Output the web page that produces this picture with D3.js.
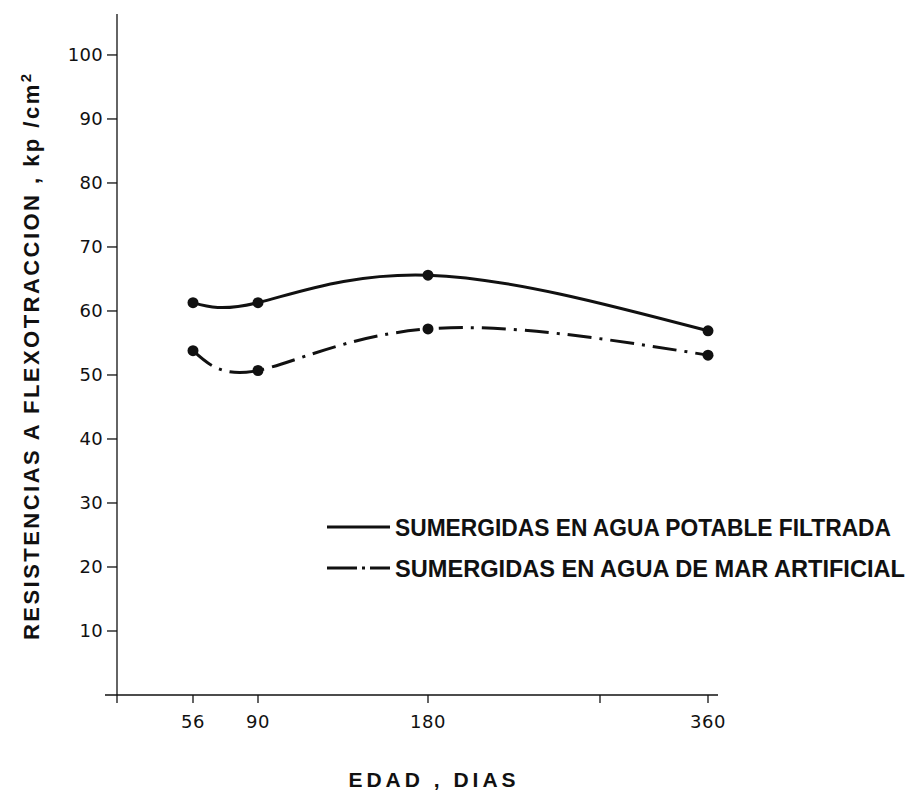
<!DOCTYPE html>
<html lang="es">
<head>
<meta charset="utf-8">
<style>
body { margin: 0; background: #fff; }
svg { display: block; }
.tick-lbl { font-family: "DejaVu Sans", sans-serif; fill: #111; }
.title { font-family: "Liberation Sans", Arial, sans-serif; font-weight: bold; fill: #111; }
.legend text { font-family: "Liberation Sans Narrow", "Liberation Sans", sans-serif; font-weight: bold; fill: #111; }
</style>
</head>
<body>
<script src="https://cdn.jsdelivr.net/npm/d3@7"></script>
<script>
// edad (dias) and resistencias a flexotraccion (kp/cm2)
var days = [56, 90, 180, 360];
var potable = [61.3, 61.3, 65.6, 56.9];
var marArtificial = [53.8, 50.7, 57.2, 53.1];

var yTicks = [10, 20, 30, 40, 50, 60, 70, 80, 90, 100];
var xTicks = [56, 90, 180, 300, 360];
var xTickLabels = ["56", "90", "180", "", "360"];

var legendLabels = ["SUMERGIDAS EN AGUA POTABLE FILTRADA", "SUMERGIDAS EN AGUA DE MAR ARTIFICIAL"];

var width = 906, height = 790;
var ink = "#111";

var svg = d3.select("body").append("svg")
    .attr("width", width)
    .attr("height", height);

// the original x axis is hand drawn and not evenly spaced, so the scale is piecewise
var x = d3.scaleLinear()
    .domain([0, 56, 90, 180, 300, 360])
    .range([117, 193, 258, 428, 600, 708]);
var y = d3.scaleLinear().domain([0, 106.4]).range([695, 14]);

// axes
var axisX = x(0), axisY = y(0);

svg.append("line")
    .attr("x1", axisX).attr("x2", axisX)
    .attr("y1", y(106.4)).attr("y2", axisY + 8)
    .attr("stroke", ink).attr("stroke-width", 1.3);

svg.append("line")
    .attr("x1", axisX - 12).attr("x2", 718)
    .attr("y1", axisY).attr("y2", axisY)
    .attr("stroke", ink).attr("stroke-width", 1.3);

var yt = svg.append("g").selectAll("g")
    .data(yTicks).enter().append("g")
    .attr("transform", function(d) { return "translate(0," + y(d) + ")"; });

yt.append("line")
    .attr("x1", axisX - 10).attr("x2", axisX)
    .attr("stroke", ink).attr("stroke-width", 1.3);

yt.append("text")
    .attr("class", "tick-lbl")
    .attr("x", axisX - 14)
    .attr("dy", "0.36em")
    .attr("text-anchor", "end")
    .style("font-size", "18px")
    .style("letter-spacing", "0.3px")
    .text(function(d) { return d; });

var xt = svg.append("g").selectAll("g")
    .data(xTicks).enter().append("g")
    .attr("transform", function(d) { return "translate(" + x(d) + ",0)"; });

xt.append("line")
    .attr("y1", axisY).attr("y2", axisY + 8)
    .attr("stroke", ink).attr("stroke-width", 1.3);

xt.append("text")
    .attr("class", "tick-lbl")
    .attr("y", 728)
    .attr("text-anchor", "middle")
    .style("font-size", "18px")
    .style("letter-spacing", "0.5px")
    .text(function(d, i) { return xTickLabels[i]; });

// curves
var line = d3.line()
    .x(function(d) { return x(d[0]); })
    .y(function(d) { return y(d[1]); })
    .curve(d3.curveNatural);

var series = [
  { vals: potable, dash: null },
  { vals: marArtificial, dash: "24,8,3,8" }
];

series.forEach(function(s) {
  var pts = days.map(function(d, i) { return [d, s.vals[i]]; });
  svg.append("path")
      .datum(pts)
      .attr("d", line)
      .attr("fill", "none")
      .attr("stroke", ink)
      .attr("stroke-width", 3)
      .attr("stroke-dasharray", s.dash);
  svg.append("g").selectAll("circle")
      .data(pts).enter().append("circle")
      .attr("cx", function(d) { return x(d[0]); })
      .attr("cy", function(d) { return y(d[1]); })
      .attr("r", 5.5)
      .attr("fill", ink);
});

// legend
var legend = svg.append("g").attr("class", "legend");
var legendRows = [527, 568];

legendLabels.forEach(function(lbl, i) {
  legend.append("line")
      .attr("x1", 327).attr("x2", 390)
      .attr("y1", legendRows[i]).attr("y2", legendRows[i])
      .attr("stroke", ink).attr("stroke-width", 3)
      .attr("stroke-dasharray", series[i].dash ? "30,5,3,5" : null);
  legend.append("text")
      .attr("x", 395)
      .attr("y", legendRows[i] + 9)
      .style("font-size", "23px")
      .attr("textLength", i === 0 ? 496 : 510)
      .attr("lengthAdjust", "spacingAndGlyphs")
      .text(lbl);
});

// axis titles
svg.append("text")
    .attr("class", "title")
    .attr("x", 434).attr("y", 787)
    .attr("text-anchor", "middle")
    .style("font-size", "21px")
    .style("letter-spacing", "4px")
    .text("EDAD , DIAS");

var yTitle = svg.append("text")
    .attr("class", "title")
    .attr("transform", "translate(39,640) rotate(-90)")
    .style("font-size", "22px")
    .attr("textLength", 566)
    .attr("lengthAdjust", "spacing");
yTitle.append("tspan").text("RESISTENCIAS A FLEXOTRACCION , kp /cm");
yTitle.append("tspan").attr("dy", "-0.55em").style("font-size", "15px").text("2");
</script>
</body>
</html>
